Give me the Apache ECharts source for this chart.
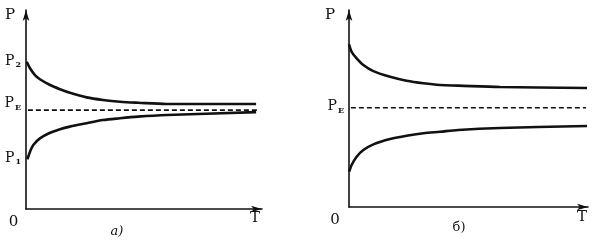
<!DOCTYPE html>
<html><head><meta charset="utf-8">
<script src="https://cdn.jsdelivr.net/npm/echarts@6/dist/echarts.min.js"></script>
<style>html,body{margin:0;padding:0;background:#fff}#c{width:615px;height:241px}</style>
</head><body><div id="c"></div>
<script>
// Panel a) — values in arbitrary units (T: 0..100, P: 0..100)
const aUpper = [[0.3,74.0],[1.7,70.7],[3.8,67.3],[5.9,65.2],[10.2,62.3],[14.4,60.2],[18.6,58.4],[25.7,56.1],[32.6,54.8],[39.8,53.9],[47.5,53.4],[59.7,52.8],[97.5,52.8]];
const aLower = [[0.6,25.0],[1.7,28.8],[3.1,32.2],[5.9,35.5],[10.2,38.3],[14.4,40.1],[18.6,41.4],[25.7,43.1],[32.6,44.7],[39.8,45.6],[47.5,46.4],[59.7,47.2],[97.5,48.7]];
const aEquil = [[0.8,49.7],[98.3,49.7]];
const aTickValues = [74.4, 53.0, 25.6];
const aTickLabels = ['P{s|2}', 'P{s|E}', 'P{s|1}'];
// Panel б)
const bUpper = [[0,82.6],[1.1,78.8],[3.2,75.5],[6.0,72.1],[10.2,69.0],[17.2,66.1],[24.1,64.1],[31.1,62.8],[38.1,61.9],[45.7,61.6],[63.2,60.9],[99.6,60.4]];
const bLower = [[0.1,17.9],[1.1,21.3],[3.2,25.5],[6.0,28.9],[10.2,31.8],[17.2,34.5],[24.1,36.2],[31.1,37.4],[38.1,38.2],[45.7,39.1],[63.2,40.1],[99.6,41.1]];
const bEquil = [[0.8,50.4],[99.2,50.4]];
const bTickValues = [51.0];
const bTickLabels = ['P{s|E}'];
const panelTitles = ['a)', 'б)'];
const axisNames = ['P', 'T', '0'];

const FONT = 'DejaVu Serif';
const INK = '#111';
const axisLine = {show:true, lineStyle:{color:INK, width:1.6}, symbol:['none','arrow'], symbolSize:[5,11]};
function xAxis(gi){return {type:'value', gridIndex:gi, min:0, max:100, axisLine, axisTick:{show:false}, axisLabel:{show:false}, splitLine:{show:false}};}
function yAxis(gi, vals, labs){
  return {type:'value', gridIndex:gi, min:0, max:100, axisLine, axisTick:{show:false}, splitLine:{show:false},
    axisLabel:{show:true, customValues:vals, margin:5,
      formatter:(v)=>{const i=vals.indexOf(v); return i>=0?labs[i]:'';},
      fontFamily:FONT, fontSize:14, color:INK,
      rich:{s:{fontFamily:FONT, fontSize:8, fontWeight:'bold', color:INK, padding:[8,0,0,1]}}}};
}
function line(xi, data, dashed){
  return {type:'line', xAxisIndex:xi, yAxisIndex:xi, data, symbol:'none', smooth:dashed?false:0.3,
    lineStyle:{color:INK, width:dashed?1.6:2.6, type:dashed?[5,3]:'solid'}, silent:true};
}
function txt(t, x, y, font){return {type:'text', style:{text:t, x, y, fill:INK, font:font||('15px "'+FONT+'"'), textAlign:'center', textVerticalAlign:'middle'}};}

const chart = echarts.init(document.getElementById('c'), null, {renderer:'canvas'});
chart.setOption({
  animation:false,
  grid:[{left:26, top:10, width:236, height:199}, {left:349, top:10, width:239, height:197}],
  xAxis:[xAxis(0), xAxis(1)],
  yAxis:[yAxis(0, aTickValues, aTickLabels), yAxis(1, bTickValues, bTickLabels)],
  series:[line(0,aUpper), line(0,aLower), line(0,aEquil,true), line(1,bUpper), line(1,bLower), line(1,bEquil,true)],
  graphic:[
    txt(axisNames[0], 10, 15), txt(axisNames[0], 330, 15),
    txt(axisNames[1], 255, 218), txt(axisNames[1], 582, 217),
    txt(axisNames[2], 13.5, 222), txt(axisNames[2], 335, 220),
    txt(panelTitles[0], 117, 232, 'italic 13px "'+FONT+'"'),
    txt(panelTitles[1], 459, 228, '13px "'+FONT+'"')
  ]
});
</script></body></html>
